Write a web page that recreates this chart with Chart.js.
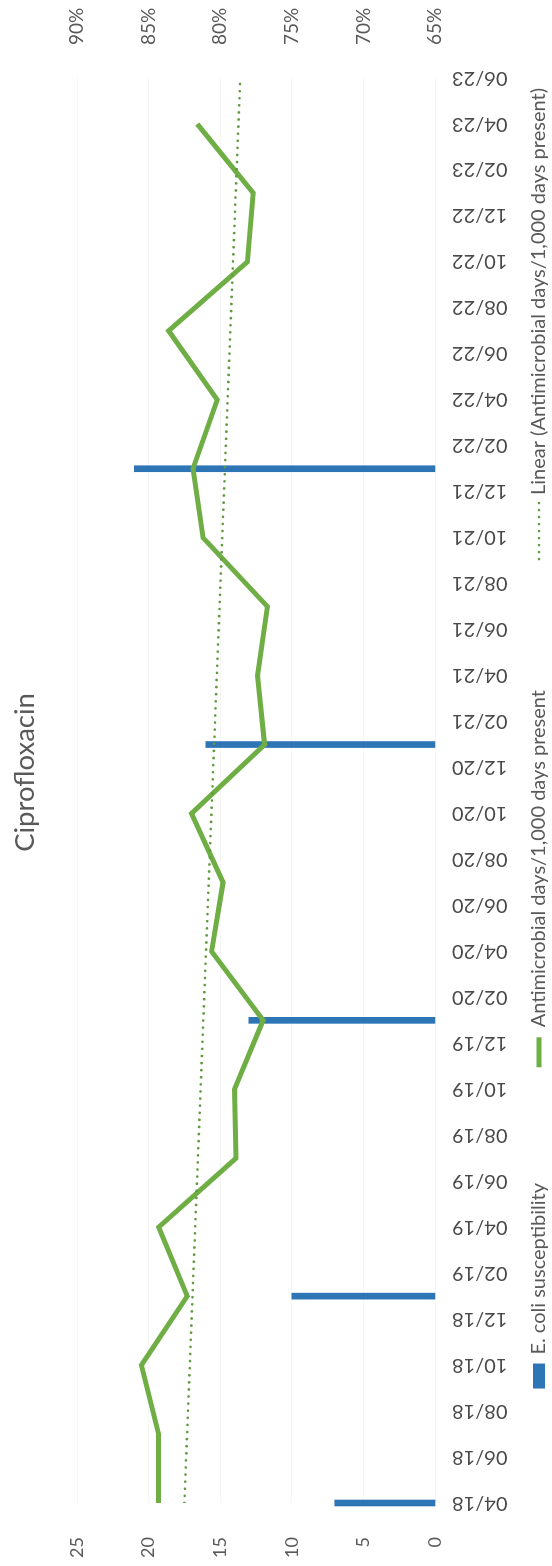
<!DOCTYPE html>
<html>
<head>
<meta charset="utf-8">
<script src="https://cdn.jsdelivr.net/npm/chart.js@4.4.1/dist/chart.umd.min.js"></script>
<style>
  html, body { margin: 0; padding: 0; background: #fff; overflow: hidden; }
  #page { width: 552px; height: 1566px; position: relative; overflow: hidden; }
  /* the chart is laid out landscape and turned a quarter turn, like the scanned page */
  #wrap { position: absolute; left: 0; top: 0; width: 1566px; height: 552px;
          transform-origin: 0 0; transform: translateY(1566px) rotate(-90deg); }
</style>
</head>
<body>
<div id="page"><div id="wrap"><canvas id="c" width="1566" height="552"></canvas></div></div>
<script>
// tick labels on the date axis (every 2nd month)
const tickLabels = ["04/18", "06/18", "08/18", "10/18", "12/18",
  "02/19", "04/19", "06/19", "08/19", "10/19", "12/19",
  "02/20", "04/20", "06/20", "08/20", "10/20", "12/20",
  "02/21", "04/21", "06/21", "08/21", "10/21", "12/21",
  "02/22", "04/22", "06/22", "08/22", "10/22", "12/22",
  "02/23", "04/23", "06/23"];

// antimicrobial days / 1,000 days present (quarterly)
const useDates = ["04/18", "07/18", "10/18", "01/19", "04/19", "07/19", "10/19",
  "01/20", "04/20", "07/20", "10/20", "01/21", "04/21", "07/21", "10/21",
  "01/22", "04/22", "07/22", "10/22", "01/23", "04/23"];
const useValues = [19.3, 19.3, 20.5, 17.3, 19.3, 13.9, 14.0,
  12.0, 15.6, 14.8, 17.0, 11.9, 12.4, 11.7, 16.2,
  16.9, 15.2, 18.6, 13.1, 12.7, 16.6];

// E. coli susceptibility (%), yearly
const ecoliDates = ["04/18", "01/19", "01/20", "01/21", "01/22"];
const ecoliValues = [72, 75, 78, 81, 86];

// linear trend line end points
const trendDates = ["04/18", "06/23"];
const trendValues = [17.5, 13.6];

const FONT = "Lato";
const GREY = "#595959";
const BLUE = "#2e75b6";
const GREEN = "#6fae45";
const DOTS = "#5f9a3d";

// month number counted from 04/18
function monthIdx(s) {
  const [mm, yy] = s.split("/").map(Number);
  return (yy - 18) * 12 + (mm - 4);
}
const pts = (dates, vals) => dates.map((d, i) => ({ x: monthIdx(d), y: vals[i] }));

// legend along the bottom edge: text is right aligned to where it ends on the scan
const LEG_Y = 539;
const legendLayout = [
  { ds: 2, kind: "bar", endX: 383, gap: 9 },
  { ds: 1, kind: "line", endX: 876, gap: 10 },
  { ds: 0, kind: "dots", endX: 1478, gap: 7 },
];
const pageLegend = {
  id: "pageLegend",
  afterDraw(chart) {
    const ctx = chart.ctx;
    ctx.save();
    ctx.font = "20px " + FONT;
    ctx.textBaseline = "middle";
    legendLayout.forEach((it) => {
      const ds = chart.data.datasets[it.ds];
      const w = ctx.measureText(ds.label).width;
      const x0 = it.endX - w;
      ctx.fillStyle = GREY;
      ctx.fillText(ds.label, x0, LEG_Y);
      const r = x0 - it.gap;
      if (it.kind === "bar") {
        ctx.fillStyle = ds.backgroundColor;
        ctx.fillRect(r - 25, LEG_Y - 6, 25, 12);
      } else if (it.kind === "line") {
        ctx.strokeStyle = ds.borderColor;
        ctx.lineWidth = 5;
        ctx.beginPath(); ctx.moveTo(r - 30, LEG_Y); ctx.lineTo(r, LEG_Y); ctx.stroke();
      } else {
        ctx.fillStyle = ds.borderColor;
        for (let x = r - 1; x > r - 62; x -= 7) {
          ctx.beginPath(); ctx.arc(x, LEG_Y, 1.3, 0, Math.PI * 2); ctx.fill();
        }
      }
    });
    ctx.restore();
  },
};

new Chart(document.getElementById("c"), {
  type: "line",
  data: {
    datasets: [
      {
        label: "Linear (Antimicrobial days/1,000 days present)",
        data: pts(trendDates, trendValues),
        yAxisID: "y",
        borderColor: DOTS,
        borderWidth: 2.6,
        borderDash: [0.1, 7],
        borderCapStyle: "round",
        pointRadius: 0,
        order: 0,
      },
      {
        label: "Antimicrobial days/1,000 days present",
        data: pts(useDates, useValues),
        yAxisID: "y",
        borderColor: GREEN,
        borderWidth: 5,
        pointRadius: 0,
        tension: 0,
        order: 1,
      },
      {
        type: "bar",
        label: "E. coli susceptibility",
        data: pts(ecoliDates, ecoliValues),
        yAxisID: "y1",
        base: 65,
        backgroundColor: BLUE,
        barThickness: 6,
        clip: false,
        order: 2,
      },
    ],
  },
  options: {
    responsive: false,
    animation: false,
    devicePixelRatio: 1,
    layout: { padding: { left: 5, right: -16, top: 0, bottom: 29 } },
    scales: {
      x: {
        type: "linear",
        min: 0,
        max: 62,
        offset: false,
        grid: { display: false, drawTicks: false },
        border: { display: false },
        ticks: {
          stepSize: 2,
          autoSkip: false,
          minRotation: 90,
          maxRotation: 90,
          padding: 17,
          color: "#4a4a4a",
          font: { family: FONT, size: 20 },
          callback: (v) => tickLabels[v / 2] || "",
        },
        afterFit: (s) => { s.height = 88; },
      },
      y: {
        position: "left",
        min: 0,
        max: 25,
        grid: { color: "#f6f6f6", drawTicks: false },
        border: { display: false },
        ticks: { stepSize: 5, padding: 34, color: GREY, font: { family: FONT, size: 18 } },
        afterFit: (s) => { s.width = 58; },
      },
      y1: {
        position: "right",
        min: 65,
        max: 90,
        grid: { display: false, drawTicks: false },
        border: { display: false },
        ticks: {
          stepSize: 5,
          padding: 33,
          color: GREY,
          font: { family: FONT, size: 19 },
          callback: (v) => v + "%",
        },
        afterFit: (s) => { s.width = 94; },
      },
    },
    plugins: {
      title: {
        display: true,
        text: "Ciprofloxacin",
        color: GREY,
        font: { family: FONT, size: 27.5, weight: "normal" },
        padding: { top: 9, bottom: 35 },
      },
      legend: { display: false },
      tooltip: { enabled: false },
    },
  },
  plugins: [pageLegend],
});
</script>
</body>
</html>
